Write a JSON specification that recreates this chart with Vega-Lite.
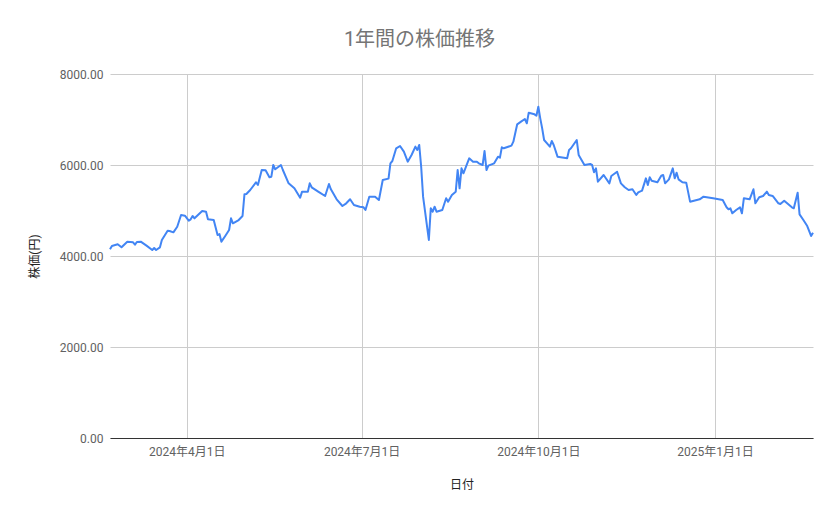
{
  "$schema": "https://vega.github.io/schema/vega-lite/v6.json",
  "autosize": "none",
  "width": 703,
  "height": 364,
  "padding": {"left": 110, "top": 74, "right": 26, "bottom": 81},
  "background": "#ffffff",
  "title": {
    "text": "1年間の株価推移",
    "fontSize": 20,
    "fontWeight": "normal",
    "color": "#757575",
    "font": "Roboto, Noto Sans CJK JP",
    "anchor": "middle",
    "dx": -42,
    "offset": 18
  },
  "config": {
    "view": {"stroke": null},
    "font": "Roboto, Noto Sans CJK JP"
  },
  "data": {
    "values": [
      {"date": "2024-02-21", "price": 4147},
      {"date": "2024-02-22", "price": 4220},
      {"date": "2024-02-25", "price": 4257},
      {"date": "2024-02-27", "price": 4191},
      {"date": "2024-03-01", "price": 4315},
      {"date": "2024-03-04", "price": 4301},
      {"date": "2024-03-05", "price": 4250},
      {"date": "2024-03-06", "price": 4308},
      {"date": "2024-03-08", "price": 4315},
      {"date": "2024-03-11", "price": 4227},
      {"date": "2024-03-14", "price": 4132},
      {"date": "2024-03-15", "price": 4176},
      {"date": "2024-03-16", "price": 4132},
      {"date": "2024-03-18", "price": 4191},
      {"date": "2024-03-19", "price": 4352},
      {"date": "2024-03-22", "price": 4556},
      {"date": "2024-03-23", "price": 4549},
      {"date": "2024-03-25", "price": 4520},
      {"date": "2024-03-27", "price": 4644},
      {"date": "2024-03-29", "price": 4901},
      {"date": "2024-03-31", "price": 4886},
      {"date": "2024-04-02", "price": 4776},
      {"date": "2024-04-03", "price": 4806},
      {"date": "2024-04-04", "price": 4879},
      {"date": "2024-04-05", "price": 4828},
      {"date": "2024-04-09", "price": 4989},
      {"date": "2024-04-11", "price": 4974},
      {"date": "2024-04-12", "price": 4806},
      {"date": "2024-04-15", "price": 4791},
      {"date": "2024-04-17", "price": 4461},
      {"date": "2024-04-18", "price": 4483},
      {"date": "2024-04-19", "price": 4315},
      {"date": "2024-04-21", "price": 4440},
      {"date": "2024-04-23", "price": 4571},
      {"date": "2024-04-24", "price": 4828},
      {"date": "2024-04-25", "price": 4718},
      {"date": "2024-04-28", "price": 4791},
      {"date": "2024-04-30", "price": 4879},
      {"date": "2024-05-01", "price": 5356},
      {"date": "2024-05-02", "price": 5363},
      {"date": "2024-05-04", "price": 5451},
      {"date": "2024-05-07", "price": 5620},
      {"date": "2024-05-08", "price": 5560},
      {"date": "2024-05-10", "price": 5890},
      {"date": "2024-05-12", "price": 5883},
      {"date": "2024-05-14", "price": 5730},
      {"date": "2024-05-15", "price": 5743},
      {"date": "2024-05-16", "price": 6000},
      {"date": "2024-05-17", "price": 5905},
      {"date": "2024-05-20", "price": 6000},
      {"date": "2024-05-21", "price": 5890},
      {"date": "2024-05-24", "price": 5597},
      {"date": "2024-05-27", "price": 5488},
      {"date": "2024-05-30", "price": 5282},
      {"date": "2024-05-31", "price": 5414},
      {"date": "2024-06-03", "price": 5414},
      {"date": "2024-06-04", "price": 5597},
      {"date": "2024-06-05", "price": 5510},
      {"date": "2024-06-09", "price": 5400},
      {"date": "2024-06-12", "price": 5319},
      {"date": "2024-06-14", "price": 5582},
      {"date": "2024-06-15", "price": 5466},
      {"date": "2024-06-18", "price": 5246},
      {"date": "2024-06-21", "price": 5099},
      {"date": "2024-06-23", "price": 5158},
      {"date": "2024-06-25", "price": 5246},
      {"date": "2024-06-27", "price": 5121},
      {"date": "2024-06-30", "price": 5084},
      {"date": "2024-07-02", "price": 5070},
      {"date": "2024-07-03", "price": 5011},
      {"date": "2024-07-05", "price": 5304},
      {"date": "2024-07-08", "price": 5304},
      {"date": "2024-07-10", "price": 5231},
      {"date": "2024-07-12", "price": 5670},
      {"date": "2024-07-15", "price": 5700},
      {"date": "2024-07-16", "price": 6037},
      {"date": "2024-07-17", "price": 6088},
      {"date": "2024-07-19", "price": 6367},
      {"date": "2024-07-21", "price": 6418},
      {"date": "2024-07-23", "price": 6293},
      {"date": "2024-07-25", "price": 6073},
      {"date": "2024-07-27", "price": 6220},
      {"date": "2024-07-29", "price": 6403},
      {"date": "2024-07-30", "price": 6330},
      {"date": "2024-07-31", "price": 6440},
      {"date": "2024-08-01", "price": 5963},
      {"date": "2024-08-02", "price": 5304},
      {"date": "2024-08-05", "price": 4352},
      {"date": "2024-08-06", "price": 5048},
      {"date": "2024-08-07", "price": 4974},
      {"date": "2024-08-08", "price": 5084},
      {"date": "2024-08-09", "price": 4974},
      {"date": "2024-08-12", "price": 5011},
      {"date": "2024-08-14", "price": 5268},
      {"date": "2024-08-15", "price": 5194},
      {"date": "2024-08-17", "price": 5341},
      {"date": "2024-08-19", "price": 5414},
      {"date": "2024-08-20", "price": 5890},
      {"date": "2024-08-21", "price": 5488},
      {"date": "2024-08-22", "price": 5927},
      {"date": "2024-08-23", "price": 5817},
      {"date": "2024-08-26", "price": 6147},
      {"date": "2024-08-28", "price": 6073},
      {"date": "2024-08-30", "price": 6073},
      {"date": "2024-08-31", "price": 6037},
      {"date": "2024-09-02", "price": 6000},
      {"date": "2024-09-03", "price": 6308},
      {"date": "2024-09-04", "price": 5890},
      {"date": "2024-09-05", "price": 5985},
      {"date": "2024-09-08", "price": 6037},
      {"date": "2024-09-10", "price": 6183},
      {"date": "2024-09-11", "price": 6161},
      {"date": "2024-09-12", "price": 6389},
      {"date": "2024-09-13", "price": 6367},
      {"date": "2024-09-17", "price": 6425},
      {"date": "2024-09-18", "price": 6513},
      {"date": "2024-09-20", "price": 6894},
      {"date": "2024-09-22", "price": 6952},
      {"date": "2024-09-24", "price": 7011},
      {"date": "2024-09-25", "price": 6916},
      {"date": "2024-09-26", "price": 7150},
      {"date": "2024-09-29", "price": 7114},
      {"date": "2024-09-30", "price": 7084},
      {"date": "2024-10-01", "price": 7282},
      {"date": "2024-10-02", "price": 7026},
      {"date": "2024-10-03", "price": 6806},
      {"date": "2024-10-04", "price": 6549},
      {"date": "2024-10-06", "price": 6454},
      {"date": "2024-10-07", "price": 6403},
      {"date": "2024-10-08", "price": 6527},
      {"date": "2024-10-09", "price": 6440},
      {"date": "2024-10-11", "price": 6183},
      {"date": "2024-10-16", "price": 6147},
      {"date": "2024-10-17", "price": 6330},
      {"date": "2024-10-18", "price": 6367},
      {"date": "2024-10-21", "price": 6549},
      {"date": "2024-10-22", "price": 6220},
      {"date": "2024-10-25", "price": 6000},
      {"date": "2024-10-28", "price": 6022},
      {"date": "2024-10-29", "price": 6000},
      {"date": "2024-10-30", "price": 5839},
      {"date": "2024-10-31", "price": 5927},
      {"date": "2024-11-01", "price": 5634},
      {"date": "2024-11-04", "price": 5780},
      {"date": "2024-11-07", "price": 5597},
      {"date": "2024-11-08", "price": 5758},
      {"date": "2024-11-11", "price": 5853},
      {"date": "2024-11-13", "price": 5597},
      {"date": "2024-11-15", "price": 5510},
      {"date": "2024-11-17", "price": 5451},
      {"date": "2024-11-19", "price": 5466},
      {"date": "2024-11-21", "price": 5341},
      {"date": "2024-11-22", "price": 5400},
      {"date": "2024-11-24", "price": 5436},
      {"date": "2024-11-26", "price": 5707},
      {"date": "2024-11-27", "price": 5560},
      {"date": "2024-11-28", "price": 5730},
      {"date": "2024-11-29", "price": 5655},
      {"date": "2024-12-02", "price": 5620},
      {"date": "2024-12-04", "price": 5765},
      {"date": "2024-12-05", "price": 5780},
      {"date": "2024-12-06", "price": 5597},
      {"date": "2024-12-08", "price": 5685},
      {"date": "2024-12-10", "price": 5927},
      {"date": "2024-12-11", "price": 5707},
      {"date": "2024-12-12", "price": 5831},
      {"date": "2024-12-13", "price": 5685},
      {"date": "2024-12-15", "price": 5620},
      {"date": "2024-12-17", "price": 5612},
      {"date": "2024-12-19", "price": 5194},
      {"date": "2024-12-24", "price": 5246},
      {"date": "2024-12-26", "price": 5304},
      {"date": "2024-12-31", "price": 5268},
      {"date": "2025-01-05", "price": 5231},
      {"date": "2025-01-07", "price": 5070},
      {"date": "2025-01-08", "price": 5026},
      {"date": "2025-01-09", "price": 5048},
      {"date": "2025-01-10", "price": 4938},
      {"date": "2025-01-12", "price": 5011},
      {"date": "2025-01-14", "price": 5070},
      {"date": "2025-01-15", "price": 4938},
      {"date": "2025-01-16", "price": 5268},
      {"date": "2025-01-19", "price": 5246},
      {"date": "2025-01-21", "price": 5466},
      {"date": "2025-01-22", "price": 5158},
      {"date": "2025-01-24", "price": 5290},
      {"date": "2025-01-26", "price": 5319},
      {"date": "2025-01-28", "price": 5414},
      {"date": "2025-01-29", "price": 5341},
      {"date": "2025-01-31", "price": 5319},
      {"date": "2025-02-03", "price": 5158},
      {"date": "2025-02-04", "price": 5143},
      {"date": "2025-02-06", "price": 5216},
      {"date": "2025-02-08", "price": 5143},
      {"date": "2025-02-10", "price": 5070},
      {"date": "2025-02-11", "price": 5048},
      {"date": "2025-02-13", "price": 5392},
      {"date": "2025-02-14", "price": 4916},
      {"date": "2025-02-16", "price": 4791},
      {"date": "2025-02-18", "price": 4659},
      {"date": "2025-02-20", "price": 4440},
      {"date": "2025-02-21", "price": 4512}
    ]
  },
  "mark": {"type": "line", "color": "#4285f4", "strokeWidth": 2, "strokeJoin": "round"},
  "encoding": {
    "x": {
      "field": "date",
      "type": "temporal",
      "scale": {"type": "utc"},
      "axis": {
        "title": "日付",
        "titleFontSize": 12,
        "titleFontWeight": "normal",
        "titleColor": "#222222",
        "titlePadding": 22,
        "values": [
          {"year": 2024, "month": 4, "date": 1, "utc": true},
          {"year": 2024, "month": 7, "date": 1, "utc": true},
          {"year": 2024, "month": 10, "date": 1, "utc": true},
          {"year": 2025, "month": 1, "date": 1, "utc": true}
        ],
        "labelExpr": "utcFormat(datum.value, '%Y年%-m月%-d日')",
        "labelFontSize": 12,
        "labelColor": "#616161",
        "labelPadding": 8,
        "labelFlush": false,
        "labelOverlap": false,
        "ticks": false,
        "domainColor": "#333333",
        "domainWidth": 1,
        "grid": true,
        "gridColor": "#cccccc"
      }
    },
    "y": {
      "field": "price",
      "type": "quantitative",
      "scale": {"domain": [0, 8000], "nice": false},
      "axis": {
        "title": "株価(円)",
        "titleFontSize": 12,
        "titleFontWeight": "normal",
        "titleColor": "#222222",
        "titlePadding": 18,
        "values": [0, 2000, 4000, 6000, 8000],
        "format": ".2f",
        "labelFontSize": 12,
        "labelColor": "#616161",
        "labelPadding": 7,
        "ticks": false,
        "domain": false,
        "grid": true,
        "gridColor": "#cccccc"
      }
    }
  }
}
